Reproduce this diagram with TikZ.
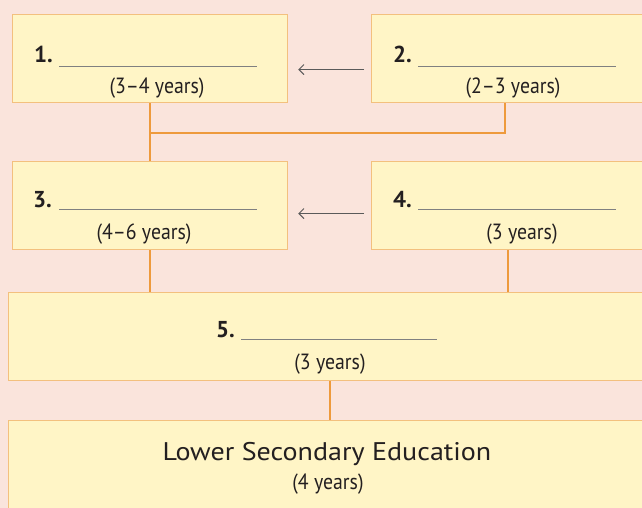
\documentclass[tikz,border=0pt]{standalone}
\usepackage{fontspec}
\setmainfont{PT Sans}
\newfontfamily\condfont{PT Sans}[FakeStretch=0.9]
\newfontfamily\widefont{PT Sans}[FakeStretch=1.1]
\usetikzlibrary{arrows.meta}
\definecolor{bgpink}{HTML}{FAE4DC}
\definecolor{boxfill}{HTML}{FFF5C6}
\definecolor{boxline}{HTML}{F3C07E}
\definecolor{conn}{HTML}{EE9A3C}
\definecolor{arrowgray}{HTML}{5A5A5A}
\definecolor{blankgray}{HTML}{808080}
\definecolor{ink}{HTML}{231F20}
\begin{document}
\begin{tikzpicture}[x=1pt,y=-1pt,
  stage/.style={draw=boxline, line width=1.2pt, fill=boxfill, anchor=north west, inner sep=0pt},
  numlabel/.style={font=\fontsize{23}{23}\selectfont\bfseries, text=ink, anchor=base west, inner sep=0pt},
  yearlabel/.style={font=\condfont\fontsize{22}{22}\selectfont, text=ink, inner sep=0pt},
  titlelabel/.style={font=\widefont\fontsize{25.5}{25.5}\selectfont, text=ink, anchor=base, inner sep=0pt},
  blank/.style={draw=blankgray, line width=0.8pt},
  link/.style={draw=conn, line width=1.6pt},
  back/.style={draw=arrowgray, line width=1pt, -{Straight Barb[length=5pt, width=10pt]}}
]
\useasboundingbox (0,0) rectangle (642,508);
\clip (0,0) rectangle (642,508);
\fill[bgpink] (0,0) rectangle (642,508);

% boxes
\node[stage, minimum width=275pt, minimum height=88pt] (b1) at (12,14) {};
\node[stage, minimum width=290pt, minimum height=88pt] (b2) at (371,14) {};
\node[stage, minimum width=275pt, minimum height=88pt] (b3) at (12,161) {};
\node[stage, minimum width=290pt, minimum height=88pt] (b4) at (371,161) {};
\node[stage, minimum width=650pt, minimum height=88pt] (b5) at (8,292) {};
\node[stage, minimum width=650pt, minimum height=100pt] (b6) at (8,420) {};

% connectors
\coordinate (j12) at (150,133);
\draw[link] (b1.south) -- (b3.north);
\draw[link] ([xshift=134pt]b2.south west) |- (j12);
\draw[link] (b3.south) -- (b3.south |- b5.north);
\draw[link] ([xshift=137pt]b4.south west) -- ([xshift=137pt]b4.south west |- b5.north);
\draw[link] ([xshift=322pt]b5.south west) -- ([xshift=322pt]b6.north west);

% arrows
\draw[back] ([xshift=-7pt,yshift=-11pt]b2.west) -- ([xshift=10pt,yshift=-11pt]b1.east);
\draw[back] ([xshift=-7pt,yshift=-8pt]b4.west) -- ([xshift=10pt,yshift=-8pt]b3.east);

% texts
\node[numlabel] (n1) at (34,63) {1.};
\draw[blank] (59,66) -- (257,66);
\node[yearlabel] (y1) at (157,88) {(3–4 years)};

\node[numlabel] (n2) at (393,63) {2.};
\draw[blank] (418,66) -- (616,66);
\node[yearlabel] (y2) at (513,88) {(2–3 years)};

\node[numlabel] (n3) at (33,207) {3.};
\draw[blank] (59,209) -- (257,209);
\node[yearlabel] (y3) at (144,234) {(4–6 years)};

\node[numlabel] (n4) at (393,207) {4.};
\draw[blank] (418,209) -- (616,209);
\node[yearlabel] (y4) at (522,234) {(3 years)};

\node[numlabel] (n5) at (216,337) {5.};
\draw[blank] (241,339) -- (437,339);
\node[yearlabel] (y5) at (330,364) {(3 years)};

\node[titlelabel] (lse) at (327,460) {Lower Secondary Education};
\node[yearlabel] (y6) at (328,484) {(4 years)};
\end{tikzpicture}
\end{document}
